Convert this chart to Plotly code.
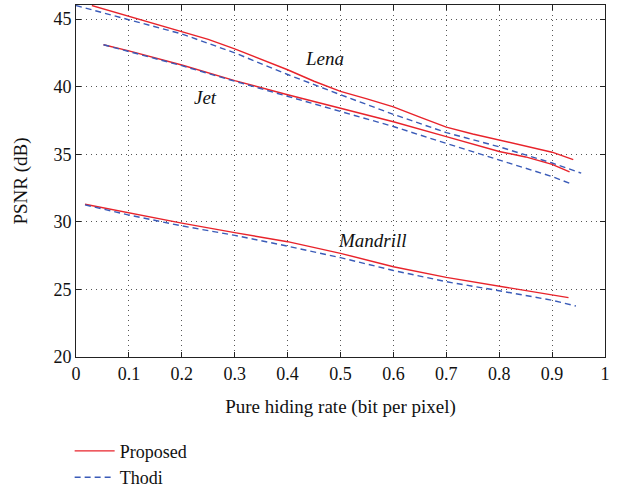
import plotly.graph_objects as go

# ---- data ----
lena_prop_x = [0.03, 0.1, 0.2, 0.25, 0.3, 0.35, 0.4, 0.45, 0.5, 0.55, 0.6, 0.65, 0.7, 0.75, 0.8, 0.85, 0.9, 0.94]
lena_prop_y = [46.0, 45.2, 44.1, 43.5, 42.8, 42.05, 41.25, 40.4, 39.65, 39.1, 38.5, 37.75, 37.0, 36.5, 36.05, 35.6, 35.15, 34.6]
lena_thodi_x = [0.0, 0.1, 0.2, 0.3, 0.4, 0.5, 0.6, 0.7, 0.8, 0.9, 0.955]
lena_thodi_y = [46.0, 44.95, 43.9, 42.5, 40.9, 39.4, 37.95, 36.6, 35.55, 34.35, 33.6]

jet_prop_x = [0.052, 0.1, 0.2, 0.3, 0.4, 0.5, 0.6, 0.7, 0.8, 0.85, 0.9, 0.933]
jet_prop_y = [43.1, 42.65, 41.6, 40.45, 39.4, 38.4, 37.4, 36.3, 35.2, 34.8, 34.25, 33.7]
jet_thodi_x = [0.052, 0.1, 0.2, 0.3, 0.4, 0.45, 0.5, 0.6, 0.7, 0.8, 0.9, 0.933]
jet_thodi_y = [43.1, 42.6, 41.55, 40.4, 39.3, 38.7, 38.15, 37.05, 35.8, 34.6, 33.35, 32.85]

man_prop_x = [0.017, 0.1, 0.2, 0.3, 0.4, 0.5, 0.6, 0.7, 0.8, 0.9, 0.931]
man_prop_y = [31.3, 30.67, 29.9, 29.2, 28.53, 27.67, 26.68, 25.89, 25.25, 24.59, 24.39]
man_thodi_x = [0.017, 0.1, 0.2, 0.3, 0.4, 0.5, 0.6, 0.7, 0.8, 0.9, 0.945]
man_thodi_y = [31.25, 30.5, 29.7, 29.0, 28.2, 27.35, 26.4, 25.57, 24.9, 24.2, 23.77]

labels = ["Lena", "Jet", "Mandrill"]
label_x = [0.47, 0.244, 0.56]
label_y = [42.1, 39.2, 28.6]

x_ticks = [0, 0.1, 0.2, 0.3, 0.4, 0.5, 0.6, 0.7, 0.8, 0.9, 1]
x_tick_text = ["0", "0.1", "0.2", "0.3", "0.4", "0.5", "0.6", "0.7", "0.8", "0.9", "1"]
y_ticks = [20, 25, 30, 35, 40, 45]

RED = "#e8232b"
BLUE = "#3a5bb8"
FONT = "Liberation Serif"

fig = go.Figure()
series = [
    (lena_prop_x, lena_prop_y, "Proposed", True, RED, "solid"),
    (lena_thodi_x, lena_thodi_y, "Thodi", True, BLUE, "6px,4px"),
    (jet_prop_x, jet_prop_y, "Proposed", False, RED, "solid"),
    (jet_thodi_x, jet_thodi_y, "Thodi", False, BLUE, "6px,4px"),
    (man_prop_x, man_prop_y, "Proposed", False, RED, "solid"),
    (man_thodi_x, man_thodi_y, "Thodi", False, BLUE, "6px,4px"),
]
for xs, ys, name, show, col, dash in series:
    fig.add_trace(go.Scatter(
        x=xs, y=ys, mode="lines", name=name, showlegend=show,
        line=dict(color=col, width=1.4, dash=dash),
    ))

for t, lx, ly in zip(labels, label_x, label_y):
    fig.add_annotation(x=lx, y=ly, text=f"<i>{t}</i>", showarrow=False,
                       font=dict(family=FONT, size=19, color="#111"))

axis_common = dict(
    showline=True, linecolor="#222", linewidth=1, mirror="ticks",
    ticks="inside", ticklen=5, tickcolor="#222",
    showgrid=True, gridcolor="#555", gridwidth=1, griddash="1px,4px",
    zeroline=False, tickfont=dict(family=FONT, size=18, color="#111"),
)

fig.update_xaxes(range=[0, 1], tickvals=x_ticks, ticktext=x_tick_text,
                 title=dict(text="Pure hiding rate (bit per pixel)",
                            font=dict(family=FONT, size=19, color="#111"), standoff=17),
                 **axis_common)
fig.update_yaxes(range=[20, 46.04], tickvals=y_ticks,
                 title=dict(text="PSNR (dB)", font=dict(family=FONT, size=19, color="#111"), standoff=20),
                 **axis_common)

fig.update_layout(
    width=620, height=489,
    margin=dict(l=76, r=15, t=5, b=132, autoexpand=False),
    plot_bgcolor="white", paper_bgcolor="white",
    font=dict(family=FONT, size=18, color="#111"),
    legend=dict(x=-0.012, y=-0.215, xanchor="left", yanchor="top",
                font=dict(family=FONT, size=18, color="#111"),
                bgcolor="rgba(0,0,0,0)", tracegroupgap=0, itemwidth=40),
)

fig.write_html("out.html")
